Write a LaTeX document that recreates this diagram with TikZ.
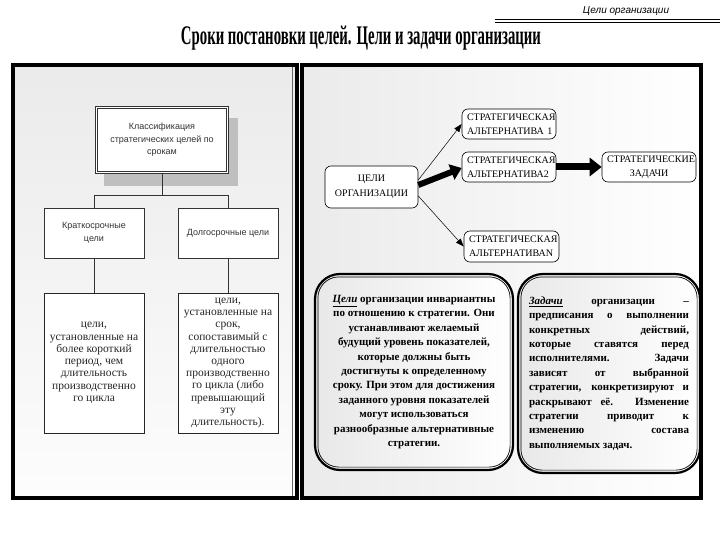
\documentclass[tikz,border=0pt]{standalone}
\usepackage{fontspec}
\setmainfont{Liberation Serif}
\setsansfont{Liberation Sans}
\usetikzlibrary{arrows.meta}
\newcommand\mytitletext{\bfseries Сроки постановки целей. Цели и задачи организации}
\begin{document}
\begin{tikzpicture}[x=1pt,y=-1pt,
 treebox/.style={draw=black!80, line width=0.8pt, fill=white, font=\sffamily\fontsize{9}{12.5}\selectfont, text=black!80, align=center, inner sep=2pt},
 descbox/.style={draw=black!85, line width=1pt, fill=white, font=\fontsize{11.5}{12.2}\selectfont, text=black!85, align=center, minimum width=100pt, minimum height=140pt, inner sep=1pt},
 capbox/.style={draw, rounded corners=6pt, fill=white, line width=0.6pt, font=\fontsize{10}{14}\selectfont, inner xsep=5pt, inner ysep=1pt},
 conn/.style={draw=black!80, line width=0.8pt},
 thinarrow/.style={-{Triangle[length=8pt,width=6pt]}, line width=0.5pt},
 thickarrow/.style={-{Triangle[length=11pt,width=16pt]}, line width=6pt},
 roundbox/.style={draw, line width=2.2pt, rounded corners=25pt, left color=black!9, right color=white, font=\bfseries\fontsize{11}{14.4}\selectfont},
]
\useasboundingbox (0,0) rectangle (720,540);
\fill[white] (0,0) rectangle (720,540);

% header
\node[font=\sffamily\itshape\fontsize{10}{10}\selectfont] (hdr) at (626,11) {Цели организации};
\draw[line width=1.3pt] (495,19.5) -- (720,19.5);
\draw[line width=0.6pt] (495,22.5) -- (720,22.5);

% title
\node[anchor=base, inner sep=0pt] (title) at (361,45) {\resizebox{360pt}{18.5pt}{\mytitletext}};

% panels
\shade[top color=black!8, bottom color=black!1] (13,65) rectangle (297,498);
\draw[line width=3.5pt] (13,65) rectangle (297,498);
\draw[line width=0.5pt, black!60] (292.5,67) -- (292.5,496);
\shade[left color=black!8, right color=white] (302,65) rectangle (701,498);
\draw[line width=3.5pt] (302,65) rectangle (701,498);

% left tree
\fill[black!25] (104,118) rectangle (238,186);
\node[treebox, double, double distance=1.2pt, line width=0.7pt, minimum width=131pt, minimum height=65pt] (cls) at (162,140) {Классификация\\стратегических целей по\\срокам};
\node[treebox, minimum width=100pt, minimum height=50pt] (st) at (94,233) {Краткосрочные\\цели};
\node[treebox, minimum width=100pt, minimum height=50pt] (lt) at (228,233) {Долгосрочные цели};
\node[descbox] (sd) at (94,363) {цели,\\установленные на\\более короткий\\период, чем\\длительность\\производственно\\го цикла};
\node[descbox] (ld) at (228,363) {цели,\\установленные на\\срок,\\сопоставимый с\\длительностью\\одного\\производственно\\го цикла (либо\\превышающий\\эту\\длительность).};
\draw[conn] (cls.south) -- ++(0,23) -| (st.north);
\draw[conn] (cls.south) -- ++(0,23) -| (lt.north);
\draw[conn] (st) -- (sd);
\draw[conn] (lt) -- (ld);

% right diagram
\node[capbox, minimum width=93pt, minimum height=42pt, align=center, font=\fontsize{10}{15}\selectfont] (goals) at (371.5,187) {ЦЕЛИ\\ОРГАНИЗАЦИИ};
\node[capbox, text width=84pt, minimum height=30pt, align=left] (a1) at (509,124) {СТРАТЕГИЧЕСКАЯ\\\mbox{АЛЬТЕРНАТИВА 1}};
\node[capbox, text width=84pt, minimum height=30pt, align=left] (a2) at (509,167) {СТРАТЕГИЧЕСКАЯ\\АЛЬТЕРНАТИВА2};
\node[capbox, text width=84pt, minimum height=30pt, align=center] (tasks) at (649,167) {СТРАТЕГИЧЕСКИЕ\\ЗАДАЧИ};
\node[capbox, text width=85pt, minimum height=31pt, align=left] (aN) at (511.5,246.5) {СТРАТЕГИЧЕСКАЯ\\АЛЬТЕРНАТИВАN};

\draw[thinarrow] ([yshift=7pt]goals.east) -- (a1.west);
\draw[thinarrow] ([yshift=-9pt]goals.east) -- (aN.west);
\draw[thickarrow] ([yshift=2pt]goals.east) -- ([yshift=-1pt]a2.west);
\draw[thickarrow, line width=7pt, -{Triangle[length=12pt,width=18pt]}] (a2.east) -- (tasks.west);

% bottom text boxes
\node[roundbox, minimum width=198pt, minimum height=196pt, align=center] (gd) at (414,372) {\underline{\textit{Цели}} организации инвариантны\\по отношению к стратегии. Они\\устанавливают желаемый\\будущий уровень показателей,\\которые должны быть\\достигнуты к определенному\\сроку. При этом для достижения\\заданного уровня показателей\\могут использоваться\\разнообразные альтернативные\\стратегии.};
\draw[line width=0.7pt, rounded corners=21pt] ([shift={(4pt,-4pt)}]gd.north west) rectangle ([shift={(-4pt,4pt)}]gd.south east);

\node[roundbox, minimum width=182pt, minimum height=199pt, align=left] (td) at (609,373.5) {\makebox[160pt][s]{\underline{\textit{Задачи}} организации –}\\
\makebox[160pt][s]{предписания о выполнении}\\
\makebox[160pt][s]{конкретных действий,}\\
\makebox[160pt][s]{которые ставятся перед}\\
\makebox[160pt][s]{исполнителями. Задачи}\\
\makebox[160pt][s]{зависят от выбранной}\\
\makebox[160pt][s]{стратегии, конкретизируют и}\\
\makebox[160pt][s]{раскрывают её. Изменение}\\
\makebox[160pt][s]{стратегии приводит к}\\
\makebox[160pt][s]{изменению состава}\\
выполняемых задач.};
\draw[line width=0.7pt, rounded corners=21pt] ([shift={(4pt,-4pt)}]td.north west) rectangle ([shift={(-4pt,4pt)}]td.south east);
\end{tikzpicture}
\end{document}
